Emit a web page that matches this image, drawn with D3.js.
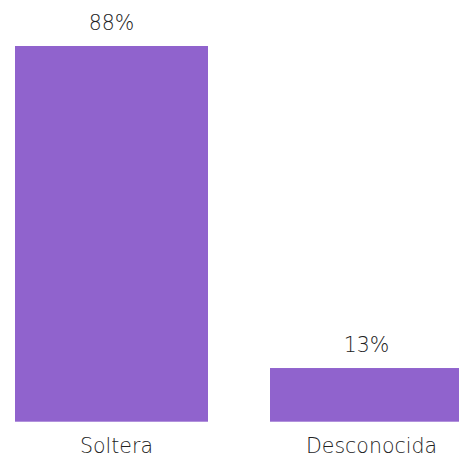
<!DOCTYPE html>
<html><head><meta charset="utf-8">
<script src="https://cdn.jsdelivr.net/npm/d3@7"></script>
<style>html,body{margin:0;padding:0;background:#fff;overflow:hidden}</style>
</head><body>
<script>
const categories = ["Soltera", "Desconocida"];
const values = [87.5, 12.5];
const valueLabels = values.map(v => Math.round(v) + "%");

const W = 459, H = 459;
const svg = d3.select("body").append("svg").attr("width", W).attr("height", H);
const x = d3.scaleBand().domain(categories).range([15, 463]).paddingInner(62/255).paddingOuter(0);
const y = d3.scaleLinear().domain([0, d3.max(values)]).range([421.7, 46]);
const color = "#9063cd";
const font = "'DejaVu Sans', sans-serif";

svg.selectAll("rect.bar").data(categories).join("rect")
  .attr("class", "bar")
  .attr("x", d => x(d))
  .attr("width", x.bandwidth())
  .attr("y", (d, i) => y(values[i]))
  .attr("height", (d, i) => y(0) - y(values[i]))
  .attr("fill", color);

svg.selectAll("text.val").data(categories).join("text")
  .attr("class", "val")
  .attr("x", d => x(d) + x.bandwidth() / 2)
  .attr("y", (d, i) => y(values[i]) - 16)
  .attr("text-anchor", "middle")
  .attr("font-family", font).attr("font-weight", 200)
  .attr("font-size", 20.5).attr("fill", "#222")
  .text((d, i) => valueLabels[i]);

const axis = d3.axisBottom(x).tickSize(0).tickPadding(0);
const g = svg.append("g").attr("transform", `translate(0,${y(0)})`).call(axis);
g.select(".domain").remove();
g.selectAll("text")
  .attr("dx", 5).attr("y", 31).attr("dy", 0)
  .attr("font-family", font).attr("font-weight", 200)
  .attr("font-size", 20.5).attr("fill", "#222");
</script>
</body></html>
